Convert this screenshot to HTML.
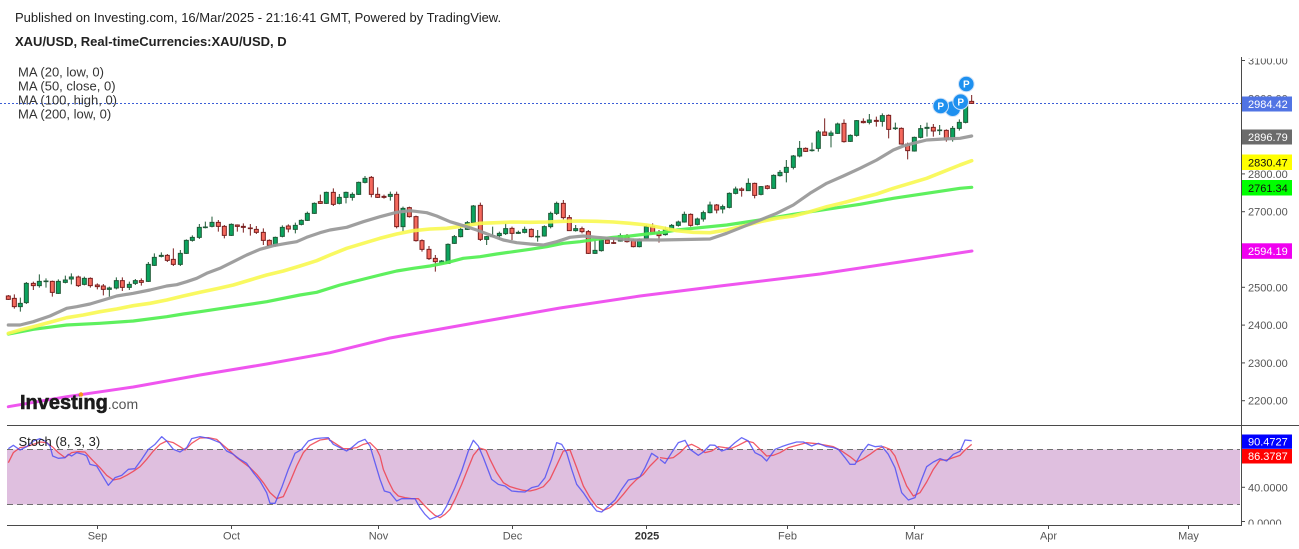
<!DOCTYPE html>
<html>
<head>
<meta charset="utf-8">
<style>
html,body{margin:0;padding:0;background:#fff;overflow:hidden;}
svg{display:block;font-family:"Liberation Sans",Arial,sans-serif;}
</style>
</head>
<body>
<svg width="1299" height="549" viewBox="0 0 1299 549" xmlns="http://www.w3.org/2000/svg">
<defs>
<clipPath id="axclip"><rect x="1242" y="58.5" width="57" height="466"/></clipPath>
</defs>
<rect width="1299" height="549" fill="#fff"/>

<!-- Stoch band -->
<rect x="7" y="449.5" width="1233" height="55" fill="#dfbfdf"/>
<line x1="7" y1="449.5" x2="1240" y2="449.5" stroke="#707070" stroke-width="1" stroke-dasharray="6,4"/>
<line x1="7" y1="504.5" x2="1240" y2="504.5" stroke="#707070" stroke-width="1" stroke-dasharray="6,4"/>

<!-- pane lines -->
<line x1="7" y1="425.5" x2="1299" y2="425.5" stroke="#4a4a4a" stroke-width="1"/>
<line x1="7" y1="525.5" x2="1242" y2="525.5" stroke="#4a4a4a" stroke-width="1"/>
<line x1="1241.5" y1="57" x2="1241.5" y2="526" stroke="#4a4a4a" stroke-width="1"/>

<!-- price line -->
<line x1="0" y1="103.5" x2="1241" y2="103.5" stroke="#3c5fd6" stroke-width="1" stroke-dasharray="2,2"/>

<!-- Candles group A -->
<g transform="translate(0,160) scale(0.333333)" stroke-width="3">
<path fill="none" stroke="#1f5a37" d="M61 413V455 M79 366V432 M118 343V383 M138 355V383 M175 358V402 M196 347V370 M214 340V373 M253 350V376 M328 380V410 M349 352V388 M388 365V390 M406 357V375 M445 306V366 M463 280V318 M484 277V292 M541 270V318 M559 238V282 M577 226V245 M598 192V237 M616 185V205 M636 170V202 M694 190V228 M826 230V260 M847 196V232 M886 188V220 M904 178V196 M922 155V183 M943 127V162 M979 95V132"/>
<path fill="none" stroke="#7a1f1f" d="M25 405V420 M43 403V446 M100 365V390 M157 362V410 M235 347V381 M271 352V383 M292 370V388 M310 372V406 M367 352V393 M424 355V377 M502 282V306 M520 265V318 M655 180V215 M673 195V235 M712 193V215 M730 190V218 M751 192V227 M769 198V222 M790 205V255 M808 238V258 M865 193V217 M961 104V132 M1000 85V138"/>
<path fill="#0ba45f" stroke="#1f5a37" d="M55 430h12V440h-12z M73 370h12V428h-12z M112 364h12V377h-12z M132 363h12V365h-12z M169 364h12V400h-12z M190 360h12V367h-12z M208 351h12V357h-12z M247 355h12V373h-12z M322 384h12V388h-12z M343 362h12V384h-12z M382 373h12V382h-12z M400 362h12V370h-12z M439 313h12V364h-12z M457 292h12V316h-12z M478 286h12V289h-12z M535 280h12V313h-12z M553 241h12V280h-12z M571 232h12V241h-12z M592 202h12V232h-12z M610 201h12V203h-12z M630 187h12V199h-12z M688 193h12V226h-12z M820 232h12V256h-12z M841 202h12V229h-12z M880 196h12V208h-12z M898 181h12V193h-12z M916 160h12V181h-12z M937 130h12V160h-12z M973 97h12V130h-12z"/>
<path fill="#f4695d" stroke="#7a1f1f" d="M19 408h12V418h-12z M37 415h12V440h-12z M94 370h12V377h-12z M151 364h12V397h-12z M229 351h12V377h-12z M265 355h12V377h-12z M286 375h12V380h-12z M304 378h12V388h-12z M361 362h12V382h-12z M418 362h12V367h-12z M496 286h12V301h-12z M514 298h12V313h-12z M649 187h12V199h-12z M667 199h12V226h-12z M706 195h12V199h-12z M724 199h12V202h-12z M745 204h12V206h-12z M763 208h12V217h-12z M784 217h12V241h-12z M802 241h12V256h-12z M859 198h12V207h-12z M955 125h12V130h-12z M994 97h12V133h-12z"/>
</g>

<!-- Candles group B -->
<g transform="translate(330,160) scale(0.333333)" stroke-width="3">
<path fill="none" stroke="#1f5a37" d="M28 102V133 M48 95V130 M67 97V122 M86 65V105 M105 48V70 M181 95V122 M219 140V215 M335 300V313 M354 250V312 M373 225V252 M392 200V232 M412 183V210 M430 135V190 M470 228V255 M488 200V232 M508 215V240 M527 190V225 M565 212V222 M584 200V220 M623 210V245 M643 196V230 M662 155V205 M680 125V165 M737 195V215 M795 240V282 M814 235V275 M871 220V245 M928 235V262 M949 195V238"/>
<path fill="none" stroke="#7a1f1f" d="M124 48V112 M143 82V114 M162 104V116 M200 95V205 M238 140V173 M258 167V245 M276 238V275 M297 258V300 M316 285V335 M451 128V243 M546 200V240 M604 205V232 M700 120V178 M718 165V213 M756 200V220 M775 210V282 M832 230V252 M851 236V252 M891 222V248 M910 236V262 M968 190V222 M987 210V248"/>
<path fill="#0ba45f" stroke="#1f5a37" d="M22 112h12V130h-12z M42 97h12V112h-12z M61 103h12V112h-12z M80 67h12V103h-12z M99 55h12V67h-12z M175 103h12V109h-12z M213 145h12V200h-12z M329 303h12V310h-12z M348 253h12V310h-12z M367 230h12V250h-12z M386 208h12V230h-12z M406 188h12V208h-12z M424 138h12V188h-12z M464 230h12V238h-12z M482 227h12V230h-12z M502 220h12V227h-12z M521 206h12V221h-12z M559 217h12V220h-12z M578 208h12V217h-12z M617 229h12V231h-12z M637 200h12V228h-12z M656 160h12V200h-12z M674 130h12V160h-12z M731 206h12V212h-12z M789 271h12V280h-12z M808 240h12V272h-12z M865 227h12V243h-12z M922 238h12V260h-12z M943 200h12V235h-12z"/>
<path fill="#f4695d" stroke="#7a1f1f" d="M118 52h12V103h-12z M137 103h12V112h-12z M156 109h12V112h-12z M194 103h12V200h-12z M232 143h12V170h-12z M252 170h12V242h-12z M270 242h12V268h-12z M291 268h12V296h-12z M310 295h12V305h-12z M445 136h12V238h-12z M540 205h12V220h-12z M598 208h12V230h-12z M694 130h12V173h-12z M712 173h12V212h-12z M750 206h12V215h-12z M769 215h12V280h-12z M826 240h12V250h-12z M845 248h12V250h-12z M885 228h12V245h-12z M904 241h12V260h-12z M962 200h12V220h-12z M981 220h12V227h-12z"/>
</g>

<!-- Candles group C -->
<g transform="translate(660,70) scale(0.333333)" stroke-width="3">
<path fill="none" stroke="#1f5a37" d="M16 470V497 M35 462V482 M55 452V470 M73 425V458 M112 443V466 M130 422V455 M150 395V430 M188 404V430 M208 367V415 M227 350V373 M265 325V363 M303 348V376 M341 313V357 M360 300V320 M379 270V337 M400 255V298 M419 213V262 M456 218V245 M475 180V245 M513 182V232 M533 158V192 M571 193V216 M590 150V200 M628 132V163 M667 130V170 M706 158V180 M763 200V245 M782 165V205 M801 158V200 M839 165V195 M878 168V215 M898 148V182 M917 95V160"/>
<path fill="none" stroke="#7a1f1f" d="M92 430V470 M170 402V430 M245 352V380 M284 338V385 M322 345V358 M437 232V246 M494 145V198 M552 148V218 M610 145V160 M649 140V170 M686 133V205 M724 172V224 M743 218V268 M820 162V200 M859 178V215 M935 75V102"/>
<path fill="#0ba45f" stroke="#1f5a37" d="M10 478h12V494h-12z M29 466h12V478h-12z M49 456h12V466h-12z M67 433h12V456h-12z M106 447h12V463h-12z M124 428h12V447h-12z M144 405h12V428h-12z M182 410h12V417h-12z M202 370h12V412h-12z M221 357h12V370h-12z M259 340h12V362h-12z M297 350h12V373h-12z M335 316h12V355h-12z M354 307h12V317h-12z M373 292h12V307h-12z M394 258h12V292h-12z M413 235h12V258h-12z M450 240h12V242h-12z M469 186h12V235h-12z M507 189h12V196h-12z M527 162h12V190h-12z M565 196h12V214h-12z M584 152h12V196h-12z M622 150h12V157h-12z M661 137h12V154h-12z M700 174h12V176h-12z M757 202h12V243h-12z M776 176h12V202h-12z M795 172h12V175h-12z M833 180h12V182h-12z M872 175h12V208h-12z M892 157h12V175h-12z M911 98h12V157h-12z"/>
<path fill="#f4695d" stroke="#7a1f1f" d="M86 433h12V466h-12z M164 405h12V420h-12z M239 357h12V361h-12z M278 340h12V376h-12z M316 348h12V355h-12z M431 235h12V244h-12z M488 186h12V196h-12z M546 160h12V215h-12z M604 154h12V158h-12z M643 151h12V154h-12z M680 136h12V178h-12z M718 175h12V222h-12z M737 222h12V242h-12z M814 172h12V183h-12z M853 181h12V208h-12z M929 94h12V100h-12z"/>
</g>

<!-- Moving averages -->
<g fill="none" stroke-linejoin="round" stroke-linecap="round">
<polyline stroke="#ef55ef" stroke-width="3" points="8.3,406.7 66.7,396.7 133.3,387 200,375 266.7,364 330,352.7 390,338 480,322 560,308 640,296 720,286 820,274 900,262 972,251"/>
<polyline stroke="#55ef55" stroke-opacity="0.95" stroke-width="3.2" points="8.3,334 33.3,329.3 66.7,325 100,323.3 133.3,321 166.7,316.7 183.3,314 200,311.7 233.3,306.7 266.7,301.7 300,295 316.7,292.3 340,285 360,280 380,275 396.7,271 413.3,268.3 430,266 446.7,262.7 463.3,258.3 480,256.7 496.7,254 513.3,251.7 530,249.3 546.7,246.7 563.3,243.3 580,241.7 596.7,239.3 613.3,237.3 630,236 646.7,234 663.3,232.3 676.7,230 693.3,228.3 726.7,225 760,220 793.3,214.3 826.7,209.3 860,204.3 893.3,198.3 926.7,193.3 960,188.3 971.7,187.3"/>
<polyline stroke="#f8f850" stroke-opacity="0.9" stroke-width="3.6" points="8.3,333.3 20,330 33.3,326.7 50,322.3 66.7,317.7 83.3,315 100,311.7 116.7,309 133.3,305.7 150,303.3 166.7,300 183.3,296 200,292.3 216.7,288.7 233.3,285 250,280 266.7,275 283.3,271 300,266 316.7,260.7 330,255 346.7,248.3 363.3,243.3 380,238.3 396.7,234 413.3,230.7 430,229 446.7,228.3 463.3,226 480,223.3 496.7,222.7 513.3,222 530,222.3 546.7,222 563.3,221.3 580,221 596.7,221.3 613.3,222 630,223.3 646.7,225 663.3,228 676.7,230.7 693.3,232.3 710,232.7 726.7,230 743.3,226 760,221.7 776.7,218.3 793.3,216 810,211.7 826.7,206.7 843.3,202.7 860,198.3 876.7,194 893.3,188.3 910,183.3 926.7,178.3 943.3,171.7 960,165 971.7,160.7"/>
<polyline stroke="#9a9a9a" stroke-opacity="0.95" stroke-width="3.2" points="8.3,325 20,325 33.3,321.7 50,316 66.7,308.3 76.7,306.7 90,304 100,301 116.7,296 133.3,293.3 150,290 166.7,286 176.7,284.7 186.7,281.7 196.7,278.3 206.7,273.3 220,268.3 233.3,261.7 246.7,255 260,249.3 273.3,245.7 286.7,243.3 296.7,241.7 306.7,237.3 320,232.7 330,230 346.7,227.3 363.3,221.7 380,216.7 396.7,212.3 410,210.7 426.7,212.7 436.7,216 450,221.7 463.3,225.7 476.7,230 490,235 503.3,240 516.7,242.7 530,244 543.3,245 556.7,241.7 570,237.3 583.3,236 596.7,237.3 610,238.3 623.3,239.3 636.7,240 650,239.8 660,240 710,239 726.7,233.3 743.3,226.7 760,220 776.7,213.3 793.3,205 810,193.3 826.7,183.3 843.3,176 860,168.3 876.7,160 893.3,150 903.3,146 913.3,143.3 926.7,140 943.3,139 960,138.3 971.7,136"/>
</g>

<!-- P badges -->
<g stroke="#cfe2f8" stroke-width="1" fill="#1e90ef">
<circle cx="952.7" cy="108.7" r="7.8"/>
<circle cx="940.7" cy="106" r="7.8"/>
<circle cx="960.7" cy="101.7" r="7.8"/>
<circle cx="966.3" cy="84" r="7.8"/>
</g>
<g font-size="10" font-weight="bold" fill="#fff" text-anchor="middle">
<text x="940.7" y="109.6">P</text>
<text x="960.7" y="105.3">P</text>
<text x="966.3" y="87.6">P</text>
</g>

<!-- Stoch lines -->
<g fill="none" stroke-linejoin="round" stroke-width="1.3">
<g transform="translate(0,426) scale(0.333333)">
<polyline stroke="#f0404e" stroke-opacity="0.85" vector-effect="non-scaling-stroke" points="25,110 40,80 60,65 80,62 100,55 120,48 140,50 160,65 175,80 195,95 215,80 235,77 255,78 275,100 300,125 320,148 340,162 360,158 380,148 400,136 420,122 440,100 460,75 480,55 500,45 520,50 540,62 555,72 575,52 600,36 625,35 650,40 670,58 690,75 710,95 730,110 750,125 770,145 790,170 810,200 830,218 850,212 870,168 890,120 910,80 930,58 960,42 990,38"/>
<polyline stroke="#5050f5" stroke-opacity="0.85" vector-effect="non-scaling-stroke" points="25,68 40,58 60,72 80,62 100,45 120,38 135,45 150,60 158,90 175,97 195,95 205,85 215,90 230,80 250,85 260,90 270,115 290,120 305,145 325,178 345,155 365,148 385,130 405,128 425,100 445,70 465,55 485,32 500,45 520,70 540,78 560,65 575,38 600,32 630,38 660,50 680,75 700,85 720,100 740,112 760,140 780,165 800,200 810,232 825,232 845,185 865,130 885,82 905,70 925,45 945,38 965,36 985,35 990,45"/>
</g>
<g transform="translate(330,426) scale(0.333333)">
<polyline stroke="#f0404e" stroke-opacity="0.85" vector-effect="non-scaling-stroke" points="0,42 20,55 40,68 60,68 80,65 100,55 120,50 140,70 150,90 160,130 175,165 190,195 205,210 225,215 245,218 265,218 280,235 300,255 315,268 330,275 345,265 360,250 375,220 395,175 415,125 430,88 448,66 468,72 480,100 500,140 520,170 540,182 560,188 580,193 600,195 620,190 640,182 660,160 680,118 700,75 720,72 740,125 760,180 780,215 800,242 820,253 840,245 860,228 880,205 900,180 920,160 940,145 960,120 985,95"/>
<polyline stroke="#5050f5" stroke-opacity="0.85" vector-effect="non-scaling-stroke" points="0,42 10,55 30,65 50,75 65,65 85,48 105,40 120,60 135,110 150,160 163,195 180,200 200,225 215,218 235,218 255,218 270,245 285,265 300,280 320,272 335,265 350,240 375,185 395,135 415,75 430,43 445,60 460,95 485,160 505,175 525,180 545,195 565,197 585,198 605,185 625,180 645,155 665,100 680,50 695,55 710,80 725,130 740,175 760,200 780,230 800,255 815,258 835,240 855,222 875,190 895,162 915,158 930,152 945,125 965,82 985,95"/>
</g>
<g transform="translate(660,426) scale(0.333333)">
<polyline stroke="#f0404e" stroke-opacity="0.85" vector-effect="non-scaling-stroke" points="0,95 20,98 40,95 60,80 80,60 95,55 115,65 135,80 155,75 175,62 195,65 215,67 235,58 260,45 280,50 300,70 320,90 340,88 360,80 385,65 410,58 440,50 470,53 500,58 520,62 545,75 570,92 590,108 610,98 630,85 650,70 670,62 690,70 705,90 720,130 740,180 760,210 780,200 800,168 820,130 840,102 860,102 880,95 900,88 915,72 935,55"/>
<polyline stroke="#5050f5" stroke-opacity="0.85" vector-effect="non-scaling-stroke" points="0,100 15,112 35,80 55,50 75,43 90,70 115,88 130,78 150,57 165,58 185,75 205,68 225,50 245,35 265,45 285,80 305,90 320,105 345,70 365,62 385,55 410,48 430,48 455,60 475,52 500,62 520,65 535,70 555,95 570,115 585,115 605,80 625,55 645,62 665,60 685,85 705,125 725,200 745,222 765,215 785,160 800,122 820,108 840,98 860,105 880,85 900,76 915,42 935,44"/>
</g>
</g>

<!-- Header texts -->
<text x="15" y="22" font-size="13" fill="#222">Published on Investing.com, 16/Mar/2025 - 21:16:41 GMT, Powered by TradingView.</text>
<text x="15" y="46" font-size="13" font-weight="bold" fill="#222">XAU/USD, Real-timeCurrencies:XAU/USD, D</text>
<g font-size="13" fill="#333">
<text x="18" y="76.5">MA (20, low, 0)</text>
<text x="18" y="90.5">MA (50, close, 0)</text>
<text x="18" y="104.5">MA (100, high, 0)</text>
<text x="18" y="118.5">MA (200, low, 0)</text>
</g>
<text x="18.5" y="446" font-size="13" fill="#222">Stoch (8, 3, 3)</text>

<!-- Investing logo -->
<text x="20" y="409" fill="#1b1b1b"><tspan font-size="20" font-weight="bold" stroke="#1b1b1b" stroke-width="0.6">Investing</tspan><tspan font-size="14" fill="#555">.com</tspan></text>
<circle cx="81" cy="394.5" r="2.2" fill="#f7931e"/>

<!-- Right axis ticks -->
<g stroke="#4a4a4a" stroke-width="1">
<line x1="1242" y1="60.5" x2="1245" y2="60.5"/>
<line x1="1242" y1="98.3" x2="1245" y2="98.3"/>
<line x1="1242" y1="136.1" x2="1245" y2="136.1"/>
<line x1="1242" y1="173.9" x2="1245" y2="173.9"/>
<line x1="1242" y1="211.7" x2="1245" y2="211.7"/>
<line x1="1242" y1="249.5" x2="1245" y2="249.5"/>
<line x1="1242" y1="287.3" x2="1245" y2="287.3"/>
<line x1="1242" y1="325.1" x2="1245" y2="325.1"/>
<line x1="1242" y1="362.9" x2="1245" y2="362.9"/>
<line x1="1242" y1="400.7" x2="1245" y2="400.7"/>
<line x1="1242" y1="487.3" x2="1245" y2="487.3"/>
<line x1="1242" y1="521.5" x2="1245" y2="521.5"/>
</g>
<g font-size="11" fill="#555" clip-path="url(#axclip)">
<text x="1248" y="64.5">3100.00</text>
<text x="1248" y="102.3">3000.00</text>
<text x="1248" y="140.1">2900.00</text>
<text x="1248" y="177.9">2800.00</text>
<text x="1248" y="215.7">2700.00</text>
<text x="1248" y="253.5">2600.00</text>
<text x="1248" y="291.3">2500.00</text>
<text x="1248" y="329.1">2400.00</text>
<text x="1248" y="366.9">2300.00</text>
<text x="1248" y="404.7">2200.00</text>
<text x="1248" y="491.3">40.0000</text>
<text x="1248" y="527">0.0000</text>
</g>

<!-- Value labels -->
<rect x="1242" y="96.5" width="50" height="15" fill="#5174e4"/>
<text x="1248" y="108" font-size="11" fill="#fff">2984.42</text>
<rect x="1242" y="129.5" width="50" height="15" fill="#6b6b6b"/>
<text x="1248" y="141" font-size="11" fill="#fff">2896.79</text>
<rect x="1242" y="154.5" width="50" height="15.5" fill="#ffff00"/>
<text x="1248" y="166.3" font-size="11" fill="#111">2830.47</text>
<rect x="1242" y="180" width="50" height="15.5" fill="#00ff00"/>
<text x="1248" y="191.8" font-size="11" fill="#111">2761.34</text>
<rect x="1242" y="243.3" width="50" height="15.5" fill="#f000f0"/>
<text x="1248" y="255" font-size="11" fill="#fff">2594.19</text>
<rect x="1242" y="434.5" width="50" height="14.3" fill="#0000ff"/>
<text x="1248" y="445.5" font-size="11" fill="#fff">90.4727</text>
<rect x="1242" y="449" width="50" height="14.5" fill="#ff0000"/>
<text x="1248" y="460.2" font-size="11" fill="#fff">86.3787</text>

<!-- Time axis -->
<g stroke="#4a4a4a" stroke-width="1">
<line x1="97.5" y1="526" x2="97.5" y2="529"/>
<line x1="231.5" y1="526" x2="231.5" y2="529"/>
<line x1="378.5" y1="526" x2="378.5" y2="529"/>
<line x1="512.5" y1="526" x2="512.5" y2="529"/>
<line x1="646.5" y1="526" x2="646.5" y2="529"/>
<line x1="787.5" y1="526" x2="787.5" y2="529"/>
<line x1="914.5" y1="526" x2="914.5" y2="529"/>
<line x1="1048.5" y1="526" x2="1048.5" y2="529"/>
<line x1="1188.5" y1="526" x2="1188.5" y2="529"/>
</g>
<g font-size="11" fill="#555" text-anchor="middle">
<text x="97.5" y="539.5">Sep</text>
<text x="231.5" y="539.5">Oct</text>
<text x="378.5" y="539.5">Nov</text>
<text x="512.5" y="539.5">Dec</text>
<text x="647" y="539.5" font-weight="bold" fill="#333">2025</text>
<text x="787.5" y="539.5">Feb</text>
<text x="914.5" y="539.5">Mar</text>
<text x="1048.5" y="539.5">Apr</text>
<text x="1188.5" y="539.5">May</text>
</g>
</svg>
</body>
</html>
